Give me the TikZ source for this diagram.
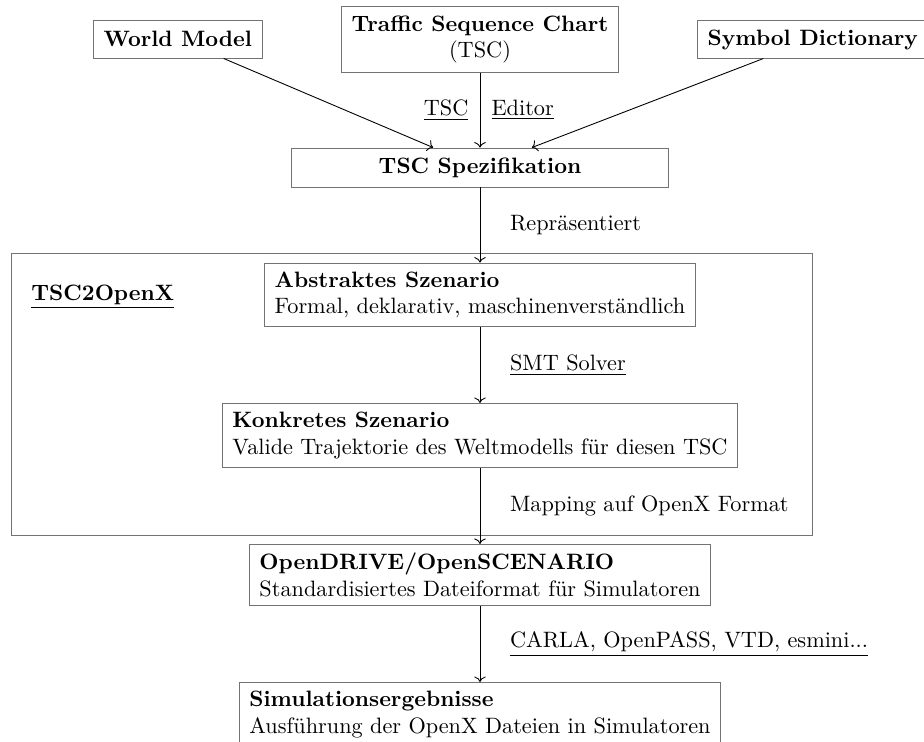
\documentclass[tikz,border=0pt]{standalone}
\usetikzlibrary{arrows.meta}
\begin{document}
\begin{tikzpicture}[x=0.4494pt, y=-0.4494pt,
  box/.style={draw=black!55, line width=0.4pt, inner xsep=4.6pt, inner ysep=3.9pt},
  frame/.style={draw=black!55, line width=0.4pt, inner sep=0pt},
  arr/.style={->, line width=0.4pt},
  lbl/.style={anchor=west, inner sep=0pt, xshift=13.3pt},
  lblL/.style={anchor=east, inner sep=0pt, xshift=-5pt},
  lblR/.style={anchor=west, inner sep=0pt, xshift=5pt}]
\useasboundingbox (0,0) rectangle (924,742);
\clip (0,0) rectangle (924,742);
% outer frame
\node[frame, minimum width=360.0pt, minimum height=126.7pt] (tscx) at (411.5,394) {};
\node[anchor=west, inner sep=0pt] (title) at (31,297) {\underline{\textbf{TSC2OpenX}}};
% top row
\node[box, anchor=west, minimum height=17.1pt] (wm) at (93,39) {\textbf{World Model}};
\node[box, align=center] (tsc) at (480,39.5) {\textbf{Traffic Sequence Chart}\\(TSC)};
\node[box, anchor=west, minimum height=16.6pt] (sym) at (697,39.5) {\textbf{Symbol Dictionary}};
% main column
\node[box, minimum width=169.4pt, minimum height=17.5pt] (spez) at (480,167.5) {\textbf{TSC Spezifikation}};
\node[box, align=left] (abs) at (480,295) {\textbf{Abstraktes Szenario}\\Formal, deklarativ, maschinenverständlich};
\node[box, align=left] (konk) at (480,435.5) {\textbf{Konkretes Szenario}\\Valide Trajektorie des Weltmodells für diesen TSC};
\node[box, align=left] (od) at (480,575) {\textbf{OpenDRIVE/OpenSCENARIO}\\Standardisiertes Dateiformat für Simulatoren};
\node[box, align=left, anchor=north] (sim) at (480,682) {\textbf{Simulationsergebnisse}\\Ausführung der OpenX Dateien in Simulatoren};
% connectors
\draw[arr] (wm) -- (spez);
\draw[arr] (sym) -- (spez);
\draw[arr] (tsc) -- node[lblL]{\underline{TSC}} node[lblR]{\underline{Editor}} (spez);
\draw[arr] (spez) -- node[lbl]{Repräsentiert} (abs);
\draw[arr] (abs) -- node[lbl]{\underline{SMT Solver}} (konk);
\draw[arr] (konk) -- node[lbl]{Mapping auf OpenX Format} (od);
\draw[arr] (od) -- node[lbl]{\underline{CARLA, OpenPASS, VTD, esmini...}} (sim);
\end{tikzpicture}
\end{document}
